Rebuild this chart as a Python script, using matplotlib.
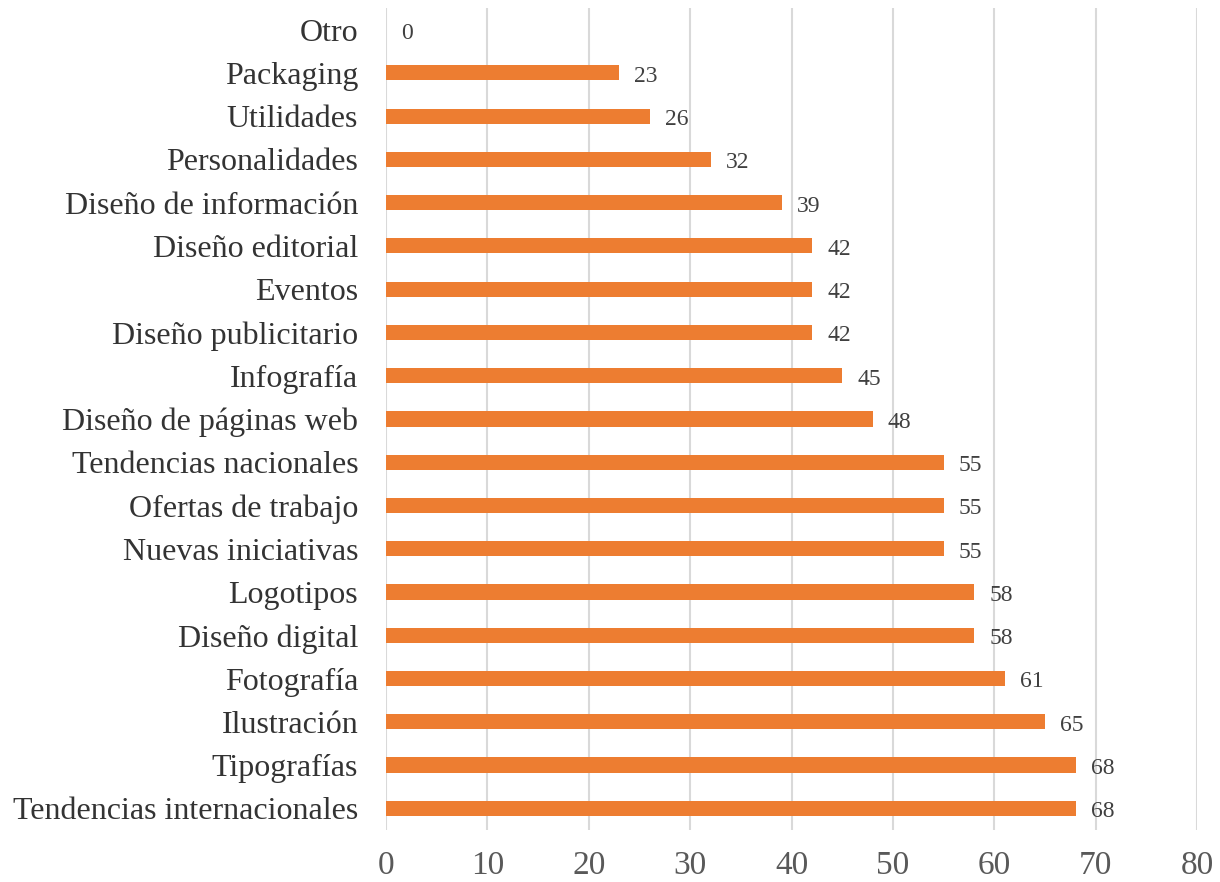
import matplotlib
matplotlib.use("Agg")
import matplotlib.pyplot as plt

categorias = ["Otro", "Packaging", "Utilidades", "Personalidades",
              "Diseño de información", "Diseño editorial", "Eventos",
              "Diseño publicitario", "Infografía", "Diseño de páginas web",
              "Tendencias nacionales", "Ofertas de trabajo", "Nuevas iniciativas",
              "Logotipos", "Diseño digital", "Fotografía", "Ilustración",
              "Tipografías", "Tendencias internacionales"]
valores = [0, 23, 26, 32, 39, 42, 42, 42, 45, 48, 55, 55, 55, 58, 58, 61, 65, 68, 68]
xticks = list(range(0, 90, 10))

plt.rcParams["font.family"] = ["Liberation Serif", "DejaVu Serif"]

fig = plt.figure(figsize=(12.2, 8.82), dpi=100)
ax = fig.add_axes([0.3164, 0.059, 0.665, 0.932])

pos = list(range(len(categorias)))
ax.barh(pos, valores, height=0.35, color="#ED7D31", zorder=3)

# etiquetas de valor al final de cada barra
for y, v in zip(pos, valores):
    ax.text(v + 1.5, y + 0.08, str(v), va="center", ha="left", fontsize=17, color="#404040")

ax.set_xlim(0, 80)
ax.set_ylim(18.5, -0.5)
ax.set_xticks(xticks)
ax.set_yticks(pos)
ax.set_yticklabels(categorias, fontsize=23, color="#333333")
ax.tick_params(axis="x", labelsize=24, labelcolor="#595959", length=0, pad=15)
ax.tick_params(axis="y", length=0, pad=20)

ax.grid(axis="x", color="#D9D9D9", linewidth=1.5, zorder=0)
for s in ax.spines.values():
    s.set_visible(False)

fig.savefig("out.png", dpi=100)
